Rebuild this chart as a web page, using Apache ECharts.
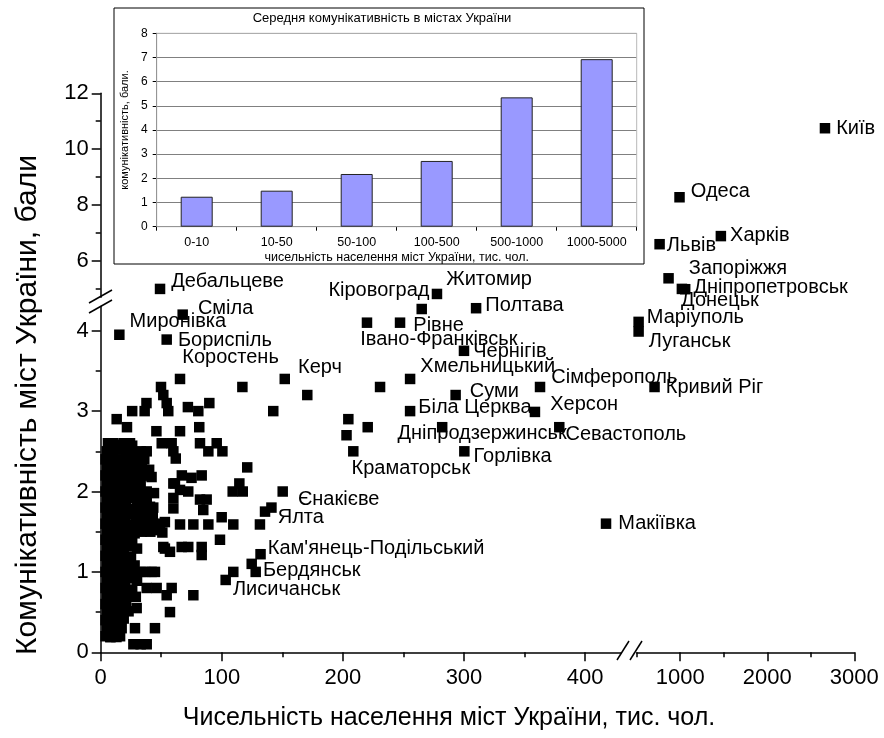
<!DOCTYPE html>
<html><head><meta charset="utf-8">
<script src="https://cdn.jsdelivr.net/npm/echarts@6/dist/echarts.min.js"></script>
<style>html,body{margin:0;padding:0;background:#fff}#c{width:884px;height:738px}</style>
</head><body><div id="c"></div><script>
// ---------- DATA ----------
const xTicksLeft = [0, 100, 200, 300, 400];
const xMinorLeft = [50, 150, 250, 350];
const xTicksRight = [1000, 2000, 3000];
const xMinorRight = [500, 1500, 2500];
const yTicksLow = [0, 1, 2, 3, 4];
const yMinorLow = [0.5, 1.5, 2.5, 3.5];
const yTicksHigh = [6, 8, 10, 12];
const yMinorHigh = [5, 7, 9, 11];

// dense cluster of small towns [population, score]
const clusterPoints = [
 [6,2.6],[12,2.58],[19,2.6],[26,2.57],
 [5,2.5],[10,2.48],[15,2.52],[21,2.5],[28,2.47],[33,2.5],
 [4,2.4],[8,2.42],[13,2.38],[18,2.4],[24,2.41],[30,2.37],[36,2.4],
 [5,2.3],[10,2.28],[14,2.32],[20,2.3],[27,2.29],[34,2.31],[40,2.27],
 [4,2.2],[8,2.21],[12,2.18],[17,2.2],[23,2.22],[29,2.19],[35,2.2],[42,2.18],
 [5,2.1],[9,2.08],[13,2.12],[16,2.1],[22,2.09],[28,2.11],[33,2.1],
 [4,2.0],[7,2.02],[11,1.98],[15,2.0],[19,2.01],[25,1.99],[31,2.0],[44,1.98],
 [5,1.9],[9,1.91],[13,1.88],[18,1.9],[24,1.92],[30,1.89],[35,1.9],
 [4,1.8],[7,1.79],[11,1.82],[16,1.8],[21,1.81],[27,1.78],[33,1.8],
 [5,1.7],[9,1.71],[12,1.68],[18,1.7],[23,1.72],[29,1.69],[36,1.7],[43,1.68],
 [4,1.6],[7,1.62],[10,1.58],[14,1.6],[20,1.61],[26,1.59],[31,1.6],[39,1.58],[47,1.6],[53,1.62],
 [5,1.5],[9,1.49],[12,1.52],[17,1.5],[22,1.51],[28,1.48],[34,1.5],[41,1.5],[46,1.52],
 [4,1.4],[8,1.41],[11,1.38],[15,1.4],[21,1.42],[26,1.39],
 [5,1.3],[9,1.31],[13,1.28],[18,1.3],[24,1.32],[30,1.29],
 [4,1.2],[7,1.21],[10,1.18],[14,1.2],[19,1.22],[25,1.19],
 [5,1.1],[9,1.09],[13,1.12],[17,1.1],[22,1.11],[28,1.08],
 [4,1.0],[7,1.01],[10,0.98],[16,1.0],[21,1.02],[27,0.99],[33,1.0],[42,1.0],
 [5,0.9],[9,0.91],[12,0.88],[18,0.9],[24,0.92],[30,0.89],
 [4,0.8],[7,0.79],[10,0.82],[14,0.8],[20,0.81],[26,0.78],
 [5,0.7],[9,0.71],[13,0.68],[17,0.7],[23,0.72],[29,0.69],
 [4,0.6],[7,0.61],[11,0.58],[16,0.6],[21,0.62],
 [5,0.5],[9,0.49],[12,0.52],[18,0.5],[23,0.51],
 [4,0.4],[7,0.41],[10,0.38],[15,0.4],[19,0.42],
 [5,0.3],[9,0.29],[13,0.31],
 [4,0.2],[8,0.19],[11,0.21],[16,0.2]
];

// other unlabeled towns (lower-left panel)
const otherPoints = [
 [49.8,3.3],[51.7,3.2],[54.5,3.1],[55.8,3.0],[117,3.3],[170.6,3.2],[142.5,3.0],
 [72,3.05],[80.6,3.0],[89.7,3.1],[26,3.0],[36.3,3.0],[37.8,3.1],[13.2,2.9],[21.7,2.8],
 [46,2.75],[65.5,2.75],[81.4,2.8],[10.4,2.6],[24.2,2.6],[38,2.5],[50.4,2.6],[58.6,2.6],
 [60,2.5],[62,2.41],[82,2.6],[88.9,2.5],[95.8,2.6],[100.5,2.5],[121,2.3],[38,2.2],
 [60,2.1],[67,2.2],[75,2.17],[83.4,2.2],[65.5,2.02],[72.3,2.0],[82,1.9],[87.5,1.9],
 [60,1.92],[60,1.79],[84.7,1.77],[109,2.0],[114.5,2.1],[117.3,2.0],[38,2.0],[38,1.9],
 [43.4,1.8],[49,1.58],[50.9,1.49],[65.5,1.59],[76.5,1.59],[88.9,1.59],[99.9,1.68],
 [109.5,1.59],[98.5,1.4],[51.7,1.31],[57.2,1.25],[66.9,1.31],[72.3,1.31],[83.4,1.31],
 [83.4,1.21],[36.6,1.0],[38,0.8],[46.2,0.8],[54.5,0.71],[58.6,0.8],[57.2,0.5],[76.5,0.71],
 [29.7,0.55],[28.3,0.3],[44.8,0.3],[27,0.1],[33,0.1],[38,0.1],[17.3,0.3],[8,0.19],[13,0.19],
 [40.7,1.81],[61.3,2.1],[53,1.29],[44.8,1.0],[135.7,1.75],[131.5,1.59],[128,1.0],[109.5,1.0],
 [230.7,3.3],[204.5,2.9],[220.5,2.8],[203,2.7]
];

// labeled cities [name, population, score]
const citiesLowLeft = [
 ['Миронівка',15.4,3.95],['Сміла',67.7,4.2],['Бориспіль',54.5,3.89],['Коростень',65.5,3.4],
 ['Керч',152,3.4],['Єнакієве',150.3,2.0],['Ялта',141,1.8],["Кам'янець-Подільський",132,1.22],
 ['Бердянськ',124.7,1.1],['Лисичанськ',103.2,0.9],['Кіровоград',265.1,4.27],['Полтава',310,4.28],
 ['Рівне',247.2,4.1],['Івано-Франківськ',219.9,4.1],['Чернігів',300,3.75],['Хмельницький',255.5,3.4],
 ['Суми',293.1,3.2],['Біла Церква',255.5,3.0],['Дніпродзержинськ',282,2.8],['Краматорськ',208.6,2.5],
 ['Горлівка',300.3,2.5],['Сімферополь',362.8,3.3],['Херсон',358.6,2.99],['Севастополь',378.7,2.8],
 ['Макіївка',417.3,1.6]
];
const citiesLowRight = [['Маріуполь',522,4.11],['Луганськ',522,3.99],['Кривий Ріг',705,3.3]];
const citiesUpLeft = [['Дебальцеве',49,5.0],['Житомир',277.7,4.82]];
const citiesUpRight = [
 ['Київ',2663,10.75],['Одеса',992,8.28],['Харків',1467,6.89],['Львів',763,6.6],
 ['Запоріжжя',866,5.38],['Дніпропетровськ',1057,4.99],['Донецьк',1019,5.0]
];

// inset bar chart
const groupLabels = ['0-10','10-50','50-100','100-500','500-1000','1000-5000'];
const groupMeans = [1.24, 1.49, 2.18, 2.72, 5.35, 6.93];

// texts
const insetTitle = 'Середня комунікативність в містах України';
const insetXName = 'чисельність населення міст України, тис. чол.';
const insetYName = 'комунікативність, бали.';
const mainXName = 'Чисельність населення міст України, тис. чол.';
const mainYName = 'Комунікативність міст України, бали';

// ---------- STYLE ----------
const FR = '"Liberation Sans",Arial,sans-serif';
const labelOffsets = {
 'Миронівка':[0,-13],'Сміла':[5,-6],'Бориспіль':[1,1],'Коростень':[-8,-21],'Керч':[3,-11],
 'Єнакієве':[5,8],'Ялта':[-4,10],"Кам'янець-Подільський":[-3,-6],'Бердянськ':[1,7],
 'Лисичанськ':[-3,10],'Кіровоград':[18,-19],'Житомир':[-1,-14],'Полтава':[-1,-3],'Рівне':[3,3],
 'Івано-Франківськ':[-17,17],'Чернігів':[-1,1],'Хмельницький':[0,-12],'Суми':[4,-4],
 'Біла Церква':[-2,-4],'Дніпродзержинськ':[-55,6],'Краматорськ':[-12,17],'Горлівка':[-1,5],
 'Сімферополь':[1,-10],'Херсон':[5,-7],'Севастополь':[-4,7],'Кривий Ріг':[1,0],
 'Маріуполь':[-2,-4],'Луганськ':[0,10],'Макіївка':[2,0],'Київ':[1,0],'Одеса':[1,-6],
 'Харків':[-1,-1],'Львів':[-3,1],'Запоріжжя':[10,-10],'Дніпропетровськ':[-2,-2],
 'Донецьк':[-11,12],'Дебальцеве':[1,-7]
};
const labelPos = {'Кіровоград':'left'};

const lineSt = {color:'#000', width:1.5};
const tickLabel = {fontFamily:FR, fontSize:22, color:'#000', formatter: v => String(v)};

function mainAxis(dim, grid, min, max, ticks, show) {
  return {gridIndex:grid, type:'value', min, max, splitLine:{show:false},
    position: dim === 'x' ? 'bottom' : 'left',
    axisLine:{show:show, onZero:false, lineStyle:lineSt},
    axisTick:{show:show, length:9, customValues:ticks, lineStyle:lineSt},
    axisLabel:Object.assign({show:show, customValues:ticks}, tickLabel, {margin: dim==='x'?15:12})};
}
function minorAxis(dim, grid, min, max, ticks) {
  return {gridIndex:grid, type:'value', min, max, position: dim==='x'?'bottom':'left',
    splitLine:{show:false}, axisLine:{show:false, onZero:false},
    axisTick:{show:true, length:5, customValues:ticks, lineStyle:lineSt},
    axisLabel:{show:false}};
}
function cityItems(list) {
  return list.map(([n,x,y]) => ({name:n, value:[x,y],
    label:{show:true, position: labelPos[n] || 'right', offset: labelOffsets[n] || [0,0]}}));
}
const scatterBase = {type:'scatter', symbol:'rect', symbolSize:10.5, itemStyle:{color:'#000', opacity:1},
  label:{show:false, fontFamily:FR, fontSize:20, color:'#000', formatter:'{b}'}, silent:true};

const G = {L:100.7, LW:520.7, R:636.7, RW:217.6, lowTop:306.6, lowH:345.7, upTop:93.3, upH:204};

const option = {
  animation:false,
  backgroundColor:'#fff',
  grid:[
    {left:G.L, top:G.lowTop, width:G.LW, height:G.lowH},
    {left:G.R, top:G.lowTop, width:G.RW, height:G.lowH},
    {left:G.L, top:G.upTop, width:G.LW, height:G.upH},
    {left:G.R, top:G.upTop, width:G.RW, height:G.upH},
    {left:156.7, top:33.3, width:480, height:193.4, show:true, borderColor:'#b8b8b8', borderWidth:1, backgroundColor:'transparent', z:1}
  ],
  xAxis:[
    mainAxis('x',0,0,430,xTicksLeft,true),
    minorAxis('x',0,0,430,xMinorLeft),
    mainAxis('x',1,500,3000,xTicksRight,true),
    minorAxis('x',1,500,3000,xMinorRight),
    mainAxis('x',2,0,430,xTicksLeft,false),
    mainAxis('x',3,500,3000,xTicksRight,false),
    {gridIndex:4, type:'category', data:groupLabels,
     axisLine:{lineStyle:{color:'#000', width:1}}, axisTick:{show:true, length:4, lineStyle:{color:'#000'}},
     axisLabel:{fontFamily:FR, fontSize:12.5, color:'#000', margin:9},
     name:insetXName, nameLocation:'middle', nameGap:24,
     nameTextStyle:{fontFamily:FR, fontSize:12.5, color:'#000'}}
  ],
  yAxis:[
    mainAxis('y',0,0,4.3,yTicksLow,true),
    minorAxis('y',0,0,4.3,yMinorLow),
    mainAxis('y',1,0,4.3,yTicksLow,false),
    mainAxis('y',2,4.7,12,yTicksHigh,true),
    minorAxis('y',2,4.7,12,yMinorHigh),
    mainAxis('y',3,4.7,12,yTicksHigh,false),
    {gridIndex:4, type:'value', min:0, max:8, interval:1,
     axisLine:{show:true, lineStyle:{color:'#000', width:1}}, axisTick:{show:true, length:4, lineStyle:{color:'#000'}},
     axisLabel:{fontFamily:FR, fontSize:12, color:'#000', margin:9},
     splitLine:{show:true, lineStyle:{color:'#808080', width:1}},
     name:insetYName, nameLocation:'middle', nameGap:25,
     nameTextStyle:{fontFamily:FR, fontSize:11, color:'#000'}}
  ],
  series:[
    Object.assign({}, scatterBase, {xAxisIndex:0, yAxisIndex:0, data:clusterPoints}),
    Object.assign({}, scatterBase, {xAxisIndex:0, yAxisIndex:0, data:otherPoints}),
    Object.assign({}, scatterBase, {xAxisIndex:0, yAxisIndex:0, data:cityItems(citiesLowLeft)}),
    Object.assign({}, scatterBase, {xAxisIndex:2, yAxisIndex:2, data:cityItems(citiesLowRight)}),
    Object.assign({}, scatterBase, {xAxisIndex:4, yAxisIndex:3, data:cityItems(citiesUpLeft)}),
    Object.assign({}, scatterBase, {xAxisIndex:5, yAxisIndex:5, data:cityItems(citiesUpRight)}),
    {type:'bar', xAxisIndex:6, yAxisIndex:6, data:groupMeans, barWidth:32, silent:true, z:3,
     itemStyle:{color:'#9999ff', borderColor:'#222', borderWidth:1}}
  ],
  graphic:[
    {type:'rect', z:-1, shape:{x:114, y:8, width:530, height:256}, style:{fill:'#fff', stroke:'#000', lineWidth:1}},
    {type:'text', x:382, y:18, z:5, style:{text:insetTitle, fontFamily:FR, fontSize:13, fill:'#000', textAlign:'center', textVerticalAlign:'middle', align:'center', verticalAlign:'middle'}},
    {type:'line', z:5, shape:{x1:89, y1:303, x2:112, y2:290}, style:{stroke:'#000', lineWidth:1.5}},
    {type:'line', z:5, shape:{x1:89, y1:313, x2:112, y2:300}, style:{stroke:'#000', lineWidth:1.5}},
    {type:'line', z:5, shape:{x1:617, y1:660, x2:629, y2:641}, style:{stroke:'#000', lineWidth:1.5}},
    {type:'line', z:5, shape:{x1:630, y1:660, x2:642, y2:641}, style:{stroke:'#000', lineWidth:1.5}},
    {type:'text', x:449, y:718, z:5, style:{text:mainXName, fontFamily:FR, fontSize:25, fill:'#000', textAlign:'center', textVerticalAlign:'middle', align:'center', verticalAlign:'middle'}},
    {type:'text', x:28, y:405, rotation:Math.PI/2, z:5, style:{text:mainYName, fontFamily:FR, fontSize:30, fill:'#000', textAlign:'center', textVerticalAlign:'middle', align:'center', verticalAlign:'middle'}}
  ]
};
const chart = echarts.init(document.getElementById('c'), null, {renderer:'canvas'});
chart.setOption(option);
</script></body></html>
